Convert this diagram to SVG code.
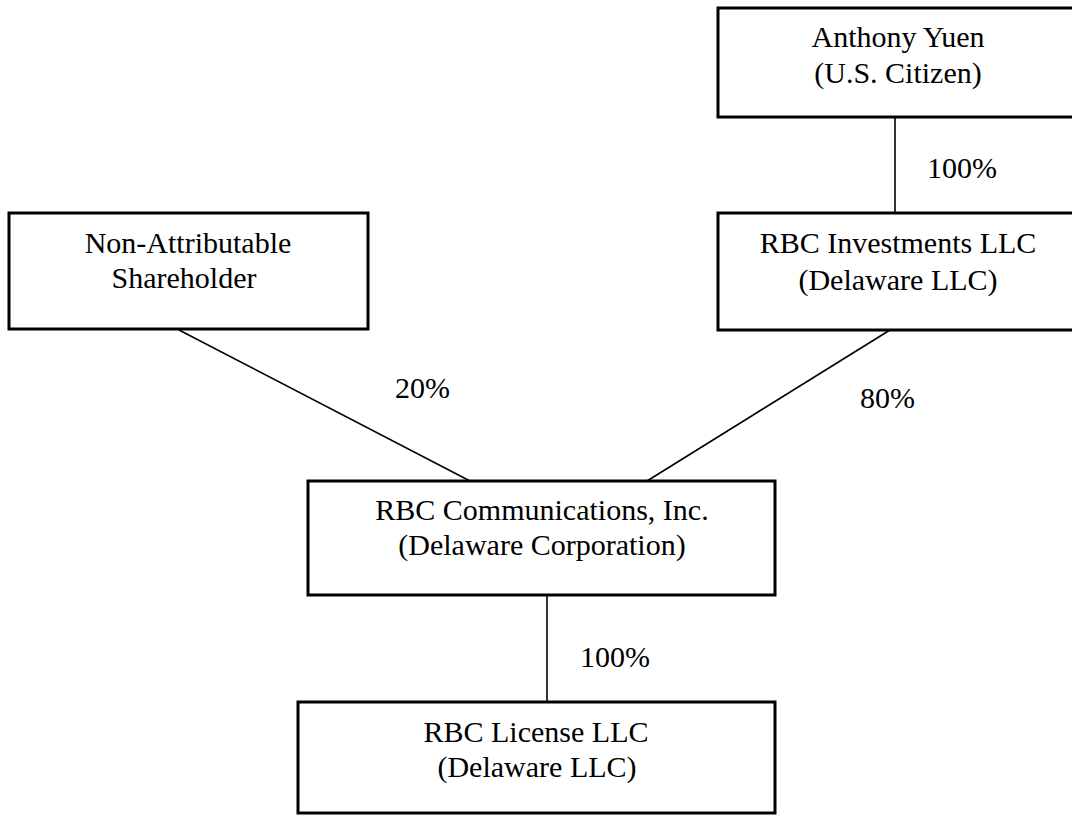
<svg xmlns="http://www.w3.org/2000/svg" width="1072" height="815" viewBox="0 0 1072 815">
<style>
.box{fill:#fff;stroke:#000;stroke-width:3}
.ln{stroke:#000;stroke-width:1.6;fill:none}
.t{font-family:'Liberation Serif','Times New Roman','DejaVu Serif',serif;font-size:30px;fill:#000}
.c{text-anchor:middle}
</style>
<rect width="1072" height="815" fill="#fff"/>
<g id="connectors">
<line class="ln" x1="895" y1="117" x2="895" y2="213"/>
<line class="ln" x1="179" y1="330" x2="470" y2="481"/>
<line class="ln" x1="890" y1="330" x2="647" y2="481"/>
<line class="ln" x1="547" y1="595" x2="547" y2="702"/>
<text class="t" font-family="Liberation Serif, serif" x="927" y="178">100%</text>
<text class="t" font-family="Liberation Serif, serif" x="395" y="398">20%</text>
<text class="t" font-family="Liberation Serif, serif" x="860" y="408">80%</text>
<text class="t" font-family="Liberation Serif, serif" x="580" y="667">100%</text>
</g>
<g id="anthony">
<rect class="box" x="718" y="8" width="370" height="109"/>
<text class="t c" x="898" y="47">Anthony Yuen</text>
<text class="t c" x="898" y="83">(U.S. Citizen)</text>
</g>
<g id="investments">
<rect class="box" x="718" y="213" width="370" height="117"/>
<text class="t c" x="898" y="253">RBC Investments LLC</text>
<text class="t c" x="898" y="290">(Delaware LLC)</text>
</g>
<g id="shareholder">
<rect class="box" x="9" y="213" width="359" height="116"/>
<text class="t c" x="188" y="253">Non-Attributable</text>
<text class="t c" x="184" y="288">Shareholder</text>
</g>
<g id="communications">
<rect class="box" x="308" y="481" width="467" height="114"/>
<text class="t c" x="542" y="520">RBC Communications, Inc.</text>
<text class="t c" x="542" y="555">(Delaware Corporation)</text>
</g>
<g id="license">
<rect class="box" x="298" y="702" width="477" height="111"/>
<text class="t c" x="536" y="742">RBC License LLC</text>
<text class="t c" x="537" y="777">(Delaware LLC)</text>
</g>
</svg>
